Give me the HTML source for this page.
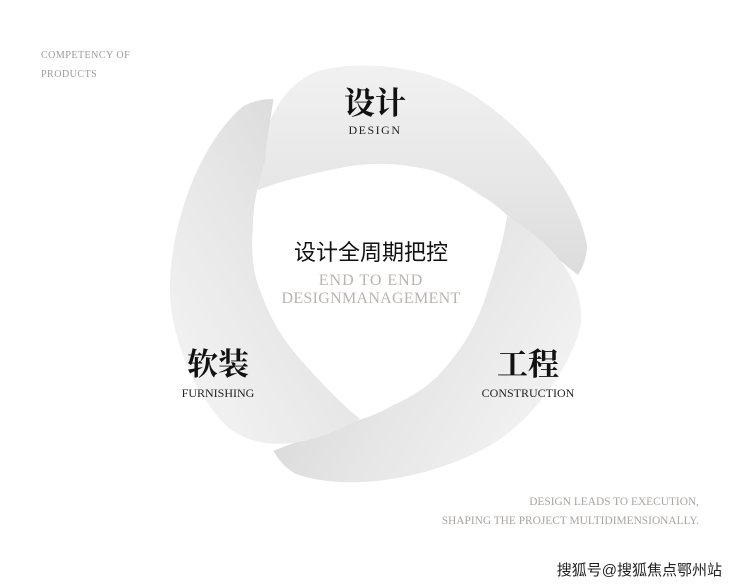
<!DOCTYPE html>
<html><head><meta charset="utf-8"><style>
body{margin:0;width:740px;height:584px;background:#fff;overflow:hidden;position:relative}
.t{position:absolute;white-space:nowrap}
.serif{font-family:"Liberation Serif","Noto Serif CJK SC",serif}
</style></head><body>
<svg width="740" height="584" style="position:absolute;left:0;top:0">
<defs>
<linearGradient id="g" x1="0" y1="0" x2="0" y2="1" gradientUnits="objectBoundingBox">
<stop offset="0" stop-color="#f1f1f1"/><stop offset="0.6" stop-color="#e6e6e6"/><stop offset="1" stop-color="#dcdcdc"/>
</linearGradient>
<path id="b" d="M-117,-85 C-116,-140 -100,-185 -60,-203 C-20,-216 50,-210 95,-182 C150,-148 202,-85 212,-30 C212,-18 208,-8 203,0 C185,-14 170,-28 155,-37 C135,-58 120,-72 105,-80 C80,-98 60,-105 45,-107 C15,-113 -10,-112 -35,-107 C-70,-100 -100,-92 -117,-85 Z" fill="url(#g)"/>
</defs>
<g transform="translate(375,275)">
<use href="#b"/>
<use href="#b" transform="rotate(120)"/>
<use href="#b" transform="rotate(240)"/>
</g>
</svg>
<div class="t" style="left:41px;top:46px;font:10px 'Liberation Serif',serif;color:#9a9a9a;line-height:19px;letter-spacing:0.5px">COMPETENCY OF<br>PRODUCTS</div>
<div class="t serif" style="left:325px;top:78px;width:100px;text-align:center;font-size:31px;font-weight:bold;color:#111">设计</div>
<div class="t serif" style="left:315px;top:123px;width:120px;text-align:center;font-size:12px;color:#222;letter-spacing:1.5px">DESIGN</div>
<div class="t serif" style="left:168px;top:339px;width:100px;text-align:center;font-size:31px;font-weight:bold;color:#111">软装</div>
<div class="t serif" style="left:158px;top:386px;width:120px;text-align:center;font-size:12px;color:#222">FURNISHING</div>
<div class="t serif" style="left:478px;top:339px;width:100px;text-align:center;font-size:31px;font-weight:bold;color:#111">工程</div>
<div class="t serif" style="left:458px;top:386px;width:140px;text-align:center;font-size:12px;color:#222">CONSTRUCTION</div>
<div class="t" style="left:261px;top:235px;width:220px;text-align:center;font:22px 'Liberation Sans','Noto Sans CJK SC',sans-serif;color:#111">设计全周期把控</div>
<div class="t serif" style="left:261px;top:272px;width:220px;text-align:center;font-size:16px;color:#b8b4ae;line-height:18px;letter-spacing:1px">END TO END<br><span style="letter-spacing:0.3px">DESIGNMANAGEMENT</span></div>
<div class="t serif" style="right:41px;top:493px;text-align:right;font-size:11.4px;color:#a8a4a0;line-height:19px">DESIGN LEADS TO EXECUTION,<br>SHAPING THE PROJECT MULTIDIMENSIONALLY.</div>
<div class="t" style="right:18px;top:559px;font:15px 'Liberation Sans','Noto Sans CJK SC',sans-serif;color:#222">搜狐号@搜狐焦点鄂州站</div>
</body></html>
